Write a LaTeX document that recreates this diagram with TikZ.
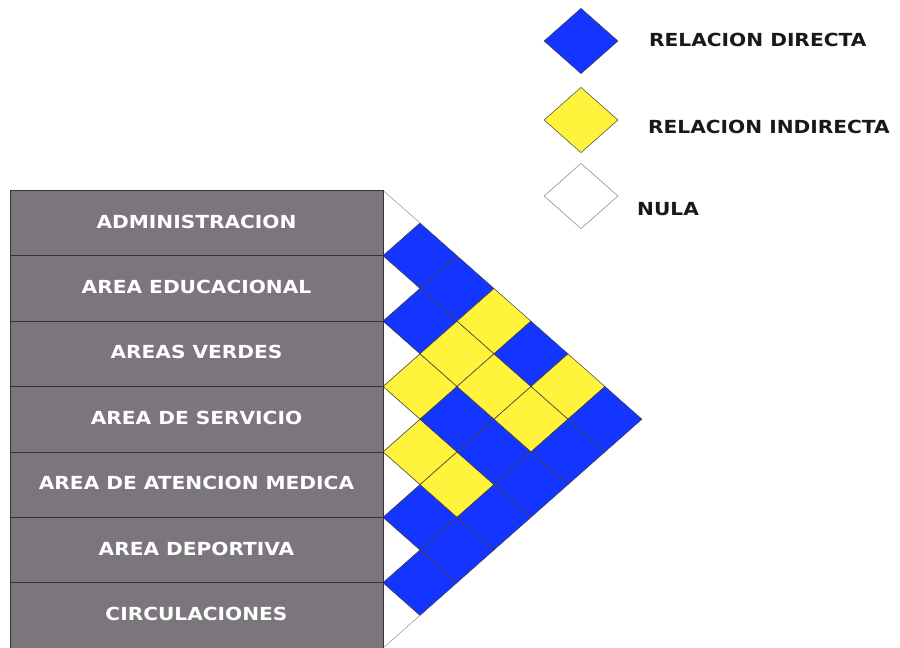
\documentclass[tikz,border=0pt]{standalone}
\usepackage{fontspec}
\setmainfont{DejaVu Sans}
\usetikzlibrary{shapes.geometric}
\definecolor{rblue}{RGB}{20,52,255}
\definecolor{ryellow}{RGB}{255,243,60}
\definecolor{rgray}{RGB}{122,118,124}
\newcommand{\wide}[1]{\scalebox{1.12}[1]{#1}}
\tikzset{
  box/.style={draw=black!80,line width=0.8pt,fill=rgray,minimum width=373pt,minimum height=65.4pt,inner sep=0pt,
    text=white,font=\fontsize{18}{21}\selectfont\bfseries},
  dia/.style={shape=diamond,minimum width=74pt,minimum height=65.4pt,inner sep=0pt,draw=black!75,line width=0.5pt},
  dB/.style={dia,fill=rblue},
  dY/.style={dia,fill=ryellow},
  dN/.style={dia,fill=white,draw=gray},
  legtext/.style={anchor=west,font=\fontsize{18}{21}\selectfont\bfseries,text=black!90,inner sep=0pt},
  tri/.style={draw=gray,line width=0.4pt,fill=white}
}
\begin{document}
\begin{tikzpicture}[x=1pt,y=-1pt]
\useasboundingbox (0,0) rectangle (900,648);
% row triangles
\foreach \i in {1,...,7}{
  \pgfmathsetmacro{\cy}{223+65.4*(\i-1)}
  \draw[tri] (383,\cy-32.7) -- (420,\cy) -- (383,\cy+32.7);
}
% diamonds
\foreach \i/\j/\c in {1/2/dB,2/3/dB,3/4/dY,4/5/dY,5/6/dB,6/7/dB,
  1/3/dB,2/4/dY,3/5/dB,4/6/dY,5/7/dB,
  1/4/dY,2/5/dY,3/6/dB,4/7/dB,
  1/5/dB,2/6/dY,3/7/dB,
  1/6/dY,2/7/dB,
  1/7/dB}{
  \pgfmathsetmacro{\dx}{383+37*(\j-\i)}
  \pgfmathsetmacro{\dy}{223+32.7*(\i+\j-2)}
  \node[\c] (d\i\j) at (\dx,\dy) {};
}
% boxes
\foreach \t [count=\i] in {ADMINISTRACION,AREA EDUCACIONAL,AREAS VERDES,AREA DE SERVICIO,AREA DE ATENCION MEDICA,AREA DEPORTIVA,CIRCULACIONES}{
  \pgfmathsetmacro{\cy}{223+65.4*(\i-1)}
  \node[box] (r\i) at (196.5,\cy) {\raisebox{3pt}{\wide{\t}}};
}
% legend
\node[dB] (lb) at (581,41) {};
\node[dY] (ly) at (581,120) {};
\node[dN] (ln) at (581,196) {};
\node[legtext] (tb) at (649,40) {\wide{RELACION DIRECTA}};
\node[legtext] (ty) at (648,127) {\wide{RELACION INDIRECTA}};
\node[legtext] (tn) at (637,209) {\wide{NULA}};
\end{tikzpicture}
\end{document}
